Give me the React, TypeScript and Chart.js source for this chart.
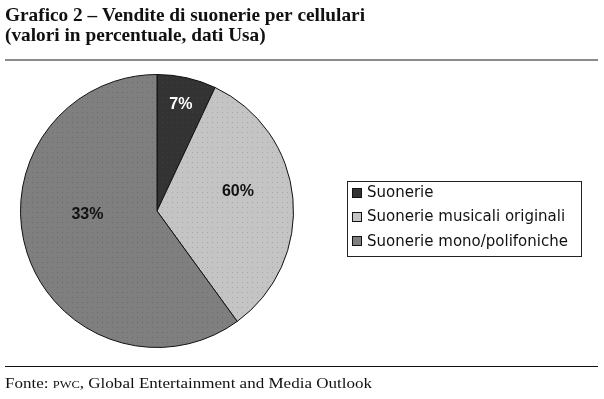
import React, { useEffect, useRef } from "react";
import { Chart, registerables } from "chart.js";

Chart.register(...registerables);

const categories = ["Suonerie", "Suonerie musicali originali", "Suonerie mono/polifoniche"];
const sliceValues = [7, 33, 60];
const sliceLabels = ["7%", "60%", "33%"];
const titleLines = ["Grafico 2 – Vendite di suonerie per cellulari", "(valori in percentuale, dati Usa)"];
const sourceParts = ["Fonte: ", "PWC", ", Global Entertainment and Media Outlook"];

const baseColors = ["#333333", "#c4c4c4", "#7f7f7f"];
const dotColors = ["#3d3d3d", "#a8a8a8", "#6c6c6c"];
const labelColors = ["#ffffff", "#111111", "#111111"];
const labelAngleFrac = [0.5, 0.43, 0.57];
const labelRadiusFrac = [0.8, 0.61, 0.51];

function makePattern(base: string, dot: string): CanvasPattern | string {
  const c = document.createElement("canvas");
  c.width = 5;
  c.height = 5;
  const g = c.getContext("2d");
  if (!g) return base;
  g.fillStyle = base;
  g.fillRect(0, 0, 5, 5);
  g.fillStyle = dot;
  g.fillRect(2, 2, 1, 1);
  const p = g.createPattern(c, "repeat");
  return p || base;
}

const decorPlugin = {
  id: "decor",
  afterDatasetsDraw(chart: any) {
    const ctx: CanvasRenderingContext2D = chart.ctx;
    const meta = chart.getDatasetMeta(0);
    ctx.save();
    ctx.font = "bold 16px 'Liberation Sans', Arial, sans-serif";
    ctx.textAlign = "center";
    ctx.textBaseline = "middle";
    meta.data.forEach((arc: any, i: number) => {
      const p = arc.getProps(["x", "y", "startAngle", "endAngle", "outerRadius"], true);
      const a = p.startAngle + labelAngleFrac[i] * (p.endAngle - p.startAngle);
      const r = p.outerRadius * labelRadiusFrac[i];
      ctx.fillStyle = labelColors[i];
      ctx.fillText(sliceLabels[i], p.x + Math.cos(a) * r, p.y + Math.sin(a) * r);
    });
    ctx.restore();
  },
  afterDraw(chart: any) {
    const ctx: CanvasRenderingContext2D = chart.ctx;
    ctx.save();
    // Title
    ctx.fillStyle = "#111111";
    ctx.textAlign = "left";
    ctx.textBaseline = "alphabetic";
    ctx.font = "bold 19px 'Liberation Serif', 'DejaVu Serif', serif";
    const w1 = ctx.measureText(titleLines[0]).width;
    const sx = 360 / w1;
    ctx.save();
    ctx.translate(5, 0);
    ctx.scale(sx, 1);
    ctx.fillText(titleLines[0], 0, 21);
    ctx.fillText(titleLines[1], 0, 41);
    ctx.restore();
    // Gray rule
    ctx.fillStyle = "#8c8c8c";
    ctx.fillRect(5, 59, 593, 2);
    // Black rule
    ctx.fillStyle = "#111111";
    ctx.fillRect(5, 366, 593, 1);
    // Source
    const fonts = [
      "15px 'Liberation Serif', serif",
      "11px 'Liberation Serif', serif",
      "15px 'Liberation Serif', serif",
    ];
    let total = 0;
    const widths = sourceParts.map((t, i) => {
      ctx.font = fonts[i];
      const w = ctx.measureText(t).width;
      total += w;
      return w;
    });
    const sx2 = 367 / total;
    ctx.save();
    ctx.translate(5, 0);
    ctx.scale(sx2, 1);
    let x = 0;
    sourceParts.forEach((t, i) => {
      ctx.font = fonts[i];
      ctx.fillText(t, x, 388);
      x += widths[i];
    });
    ctx.restore();
    // Legend
    ctx.fillStyle = "#ffffff";
    ctx.fillRect(347, 181, 234, 75);
    ctx.strokeStyle = "#222222";
    ctx.lineWidth = 1;
    ctx.strokeRect(347.5, 181.5, 234, 75);
    const rows = [192.5, 216.5, 241];
    ctx.font = "15px 'DejaVu Sans', sans-serif";
    ctx.textBaseline = "middle";
    categories.forEach((c, i) => {
      const y = rows[i];
      ctx.fillStyle = baseColors[i];
      ctx.fillRect(352, Math.round(y - 5), 10, 10);
      ctx.strokeStyle = "#111111";
      ctx.strokeRect(352.5, Math.round(y - 5) + 0.5, 9, 9);
      ctx.fillStyle = "#111111";
      ctx.fillText(c, 367, y + 1);
    });
    ctx.restore();
  },
};

export default function App() {
  const ref = useRef<HTMLCanvasElement | null>(null);
  useEffect(() => {
    document.body.style.margin = "0";
    const canvas = ref.current;
    if (!canvas) return;
    const patterns = baseColors.map((b, i) => makePattern(b, dotColors[i]));
    const chart = new Chart(canvas, {
      type: "pie",
      data: {
        labels: categories,
        datasets: [
          {
            data: sliceValues,
            backgroundColor: patterns as any,
            borderColor: "#111111",
            borderWidth: 1,
          },
        ],
      },
      options: {
        responsive: false,
        animation: false,
        layout: { padding: { left: 20, top: 74, right: 310, bottom: 51 } },
        plugins: {
          legend: { display: false },
          tooltip: { enabled: false },
          title: { display: false },
        },
      },
      plugins: [decorPlugin],
    });
    return () => chart.destroy();
  }, []);
  return (
    <div style={{ width: 604, height: 399, background: "#ffffff" }}>
      <canvas ref={ref} width={604} height={399} style={{ display: "block" }} />
    </div>
  );
}
